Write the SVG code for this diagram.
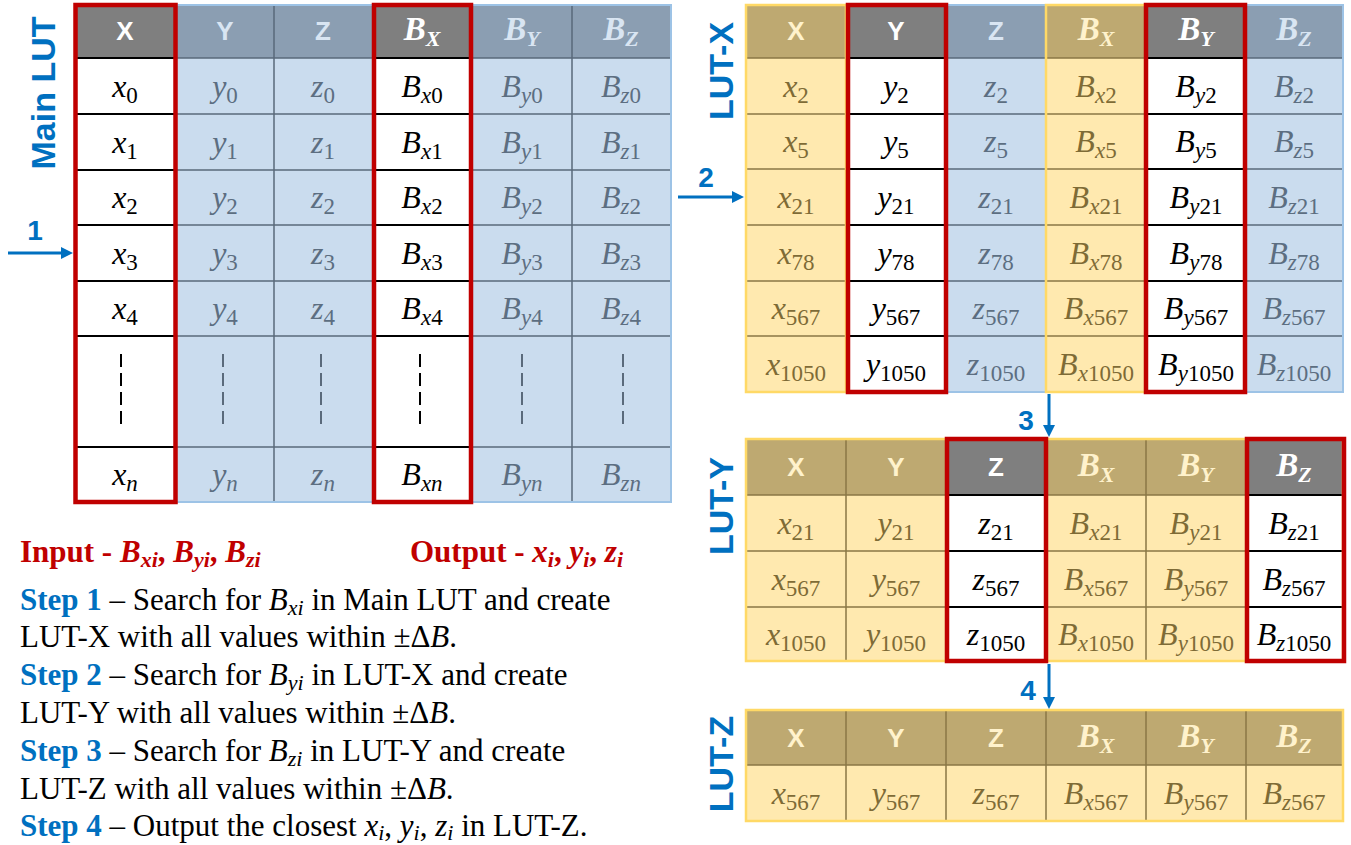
<svg xmlns="http://www.w3.org/2000/svg" width="1351" height="845" viewBox="0 0 1351 845">
<style>
.lab{font-family:"Liberation Sans",Arial,sans-serif;font-weight:bold;font-size:34px;fill:#0070C0;text-anchor:middle}
.num{font-family:"Liberation Sans",Arial,sans-serif;font-weight:bold;font-size:28px;fill:#0070C0;text-anchor:middle}
.h{font-family:"Liberation Sans",Arial,sans-serif;font-weight:bold;font-size:26px;text-anchor:middle}
.hm{font-family:"Liberation Serif","Times New Roman",serif;font-style:italic;font-weight:bold;font-size:33px;text-anchor:middle}
.hs{font-size:22px}
.m{font-family:"Liberation Serif","Times New Roman",serif;font-style:italic;font-size:32px;text-anchor:middle}
.s{font-size:23px}
.u{font-style:normal}
.cw{fill:#000}.cb{fill:#5C6E81}.cy{fill:#7E6B36}
.hw{fill:#fff}.hb{fill:#D9E5F2}.hy{fill:#FFF2CC}
.bgW{fill:#fff}.bgB{fill:#CADCEE}.bgY{fill:#FFE9AF}
.hdG{fill:#7F7F7F}.hdB{fill:#8B9EB2}.hdY{fill:#BEA971}
.lW{stroke:#000;stroke-width:2;fill:none}.lB{stroke:#5A6A7B;stroke-width:1.5;fill:none}.lY{stroke:#8A7746;stroke-width:1.5;fill:none}
.bdB{fill:none;stroke:#9DC3E6;stroke-width:2}.bdY{fill:none;stroke:#FFD966;stroke-width:2.5}
.red{fill:none;stroke:#C00000;stroke-width:4.5}
.dW{stroke:#000;stroke-width:2;stroke-dasharray:13 6}.dB{stroke:#5A6A7B;stroke-width:2;stroke-dasharray:13 6}
.arr{stroke:#0070C0;stroke-width:3;fill:none;marker-end:url(#ah)}
.tx{font-family:"Liberation Serif","Times New Roman",serif;font-size:31px;fill:#000}
.st{font-weight:bold;fill:#0070C0}
.rd{font-weight:bold;fill:#C00000}
.it{font-style:italic}
.sm{font-size:22px}
</style>
<defs>
<marker id="ah" viewBox="0 0 10 10" refX="3" refY="5" markerWidth="12" markerHeight="12" markerUnits="userSpaceOnUse" orient="auto">
<path d="M0,0 L10,5 L0,10 z" fill="#0070C0"/>
</marker>
</defs>

<g id="main-lut">
<text class="lab" transform="translate(55,93) rotate(-90)">Main LUT</text>
<rect class="bgB" x="75" y="5" width="596" height="497"/>
<rect class="bgW" x="75" y="58" width="101" height="444"/>
<rect class="bgW" x="373" y="58" width="99" height="444"/>
<rect class="hdG" x="75" y="5" width="101" height="53"/>
<rect class="hdB" x="176" y="5" width="197" height="53"/>
<rect class="hdG" x="373" y="5" width="99" height="53"/>
<rect class="hdB" x="472" y="5" width="199" height="53"/>
<path class="lW" d="M75 58H176M75 114H176M75 170H176M75 225H176M75 281H176M75 336H176M75 447H176M373 58H472M373 114H472M373 170H472M373 225H472M373 281H472M373 336H472M373 447H472"/>
<path class="lB" d="M176 58H373M176 114H373M176 170H373M176 225H373M176 281H373M176 336H373M176 447H373M472 58H671M472 114H671M472 170H671M472 225H671M472 281H671M472 336H671M472 447H671M274 5V502M572 5V502"/>
<rect class="bdB" x="176" y="5" width="495" height="497"/>
<text class="h hw" x="125" y="40">X</text>
<text class="h hb" x="225" y="40">Y</text>
<text class="h hb" x="323" y="40">Z</text>
<text class="hm hw" x="422" y="40">B<tspan class="hs" dy="6">X</tspan></text>
<text class="hm hb" x="522" y="40">B<tspan class="hs" dy="6">Y</tspan></text>
<text class="hm hb" x="621" y="40">B<tspan class="hs" dy="6">Z</tspan></text>
<text class="m cw" x="125" y="97">x<tspan class="s u" dy="6">0</tspan></text>
<text class="m cw" x="125" y="153">x<tspan class="s u" dy="6">1</tspan></text>
<text class="m cw" x="125" y="208">x<tspan class="s u" dy="6">2</tspan></text>
<text class="m cw" x="125" y="264">x<tspan class="s u" dy="6">3</tspan></text>
<text class="m cw" x="125" y="319">x<tspan class="s u" dy="6">4</tspan></text>
<text class="m cw" x="125" y="485">x<tspan class="s" dy="6">n</tspan></text>
<text class="m cb" x="225" y="97">y<tspan class="s u" dy="6">0</tspan></text>
<text class="m cb" x="225" y="153">y<tspan class="s u" dy="6">1</tspan></text>
<text class="m cb" x="225" y="208">y<tspan class="s u" dy="6">2</tspan></text>
<text class="m cb" x="225" y="264">y<tspan class="s u" dy="6">3</tspan></text>
<text class="m cb" x="225" y="319">y<tspan class="s u" dy="6">4</tspan></text>
<text class="m cb" x="225" y="485">y<tspan class="s" dy="6">n</tspan></text>
<text class="m cb" x="323" y="97">z<tspan class="s u" dy="6">0</tspan></text>
<text class="m cb" x="323" y="153">z<tspan class="s u" dy="6">1</tspan></text>
<text class="m cb" x="323" y="208">z<tspan class="s u" dy="6">2</tspan></text>
<text class="m cb" x="323" y="264">z<tspan class="s u" dy="6">3</tspan></text>
<text class="m cb" x="323" y="319">z<tspan class="s u" dy="6">4</tspan></text>
<text class="m cb" x="323" y="485">z<tspan class="s" dy="6">n</tspan></text>
<text class="m cw" x="422" y="97">B<tspan class="s" dy="6">x</tspan><tspan class="s u">0</tspan></text>
<text class="m cw" x="422" y="153">B<tspan class="s" dy="6">x</tspan><tspan class="s u">1</tspan></text>
<text class="m cw" x="422" y="208">B<tspan class="s" dy="6">x</tspan><tspan class="s u">2</tspan></text>
<text class="m cw" x="422" y="264">B<tspan class="s" dy="6">x</tspan><tspan class="s u">3</tspan></text>
<text class="m cw" x="422" y="319">B<tspan class="s" dy="6">x</tspan><tspan class="s u">4</tspan></text>
<text class="m cw" x="422" y="485">B<tspan class="s" dy="6">xn</tspan></text>
<text class="m cb" x="522" y="97">B<tspan class="s" dy="6">y</tspan><tspan class="s u">0</tspan></text>
<text class="m cb" x="522" y="153">B<tspan class="s" dy="6">y</tspan><tspan class="s u">1</tspan></text>
<text class="m cb" x="522" y="208">B<tspan class="s" dy="6">y</tspan><tspan class="s u">2</tspan></text>
<text class="m cb" x="522" y="264">B<tspan class="s" dy="6">y</tspan><tspan class="s u">3</tspan></text>
<text class="m cb" x="522" y="319">B<tspan class="s" dy="6">y</tspan><tspan class="s u">4</tspan></text>
<text class="m cb" x="522" y="485">B<tspan class="s" dy="6">yn</tspan></text>
<text class="m cb" x="621" y="97">B<tspan class="s" dy="6">z</tspan><tspan class="s u">0</tspan></text>
<text class="m cb" x="621" y="153">B<tspan class="s" dy="6">z</tspan><tspan class="s u">1</tspan></text>
<text class="m cb" x="621" y="208">B<tspan class="s" dy="6">z</tspan><tspan class="s u">2</tspan></text>
<text class="m cb" x="621" y="264">B<tspan class="s" dy="6">z</tspan><tspan class="s u">3</tspan></text>
<text class="m cb" x="621" y="319">B<tspan class="s" dy="6">z</tspan><tspan class="s u">4</tspan></text>
<text class="m cb" x="621" y="485">B<tspan class="s" dy="6">zn</tspan></text>
<path class="dW" d="M121 354V424M420 354V424"/>
<path class="dB" d="M223 354V424M321 354V424M522 354V424M623 354V424"/>
<rect class="red" x="75.5" y="5" width="100" height="497"/>
<rect class="red" x="374" y="5" width="97" height="497"/>
</g>

<g id="lut-x">
<text class="lab" transform="translate(733,71) rotate(-90)">LUT-X</text>
<rect class="bgY" x="746" y="5" width="100" height="387"/>
<rect class="bgW" x="846" y="5" width="100" height="387"/>
<rect class="bgB" x="946" y="5" width="100" height="387"/>
<rect class="bgY" x="1046" y="5" width="100" height="387"/>
<rect class="bgW" x="1146" y="5" width="100" height="387"/>
<rect class="bgB" x="1246" y="5" width="97" height="387"/>
<rect class="hdY" x="746" y="5" width="100" height="53"/>
<rect class="hdG" x="846" y="5" width="100" height="53"/>
<rect class="hdB" x="946" y="5" width="100" height="53"/>
<rect class="hdY" x="1046" y="5" width="100" height="53"/>
<rect class="hdG" x="1146" y="5" width="100" height="53"/>
<rect class="hdB" x="1246" y="5" width="97" height="53"/>
<path class="lY" d="M746 58H846M746 114H846M746 169H846M746 225H846M746 281H846M746 336H846M1046 58H1146M1046 114H1146M1046 169H1146M1046 225H1146M1046 281H1146M1046 336H1146"/>
<path class="lW" d="M846 58H946M846 114H946M846 169H946M846 225H946M846 281H946M846 336H946M1146 58H1246M1146 114H1246M1146 169H1246M1146 225H1246M1146 281H1246M1146 336H1246"/>
<path class="lB" d="M946 58H1046M946 114H1046M946 169H1046M946 225H1046M946 281H1046M946 336H1046M1246 58H1343M1246 114H1343M1246 169H1343M1246 225H1343M1246 281H1343M1246 336H1343"/>
<rect class="bdB" x="946" y="5" width="100" height="387"/>
<rect class="bdB" x="1246" y="5" width="97" height="387"/>
<rect class="bdY" x="746" y="5" width="100" height="387"/>
<rect class="bdY" x="1046" y="5" width="100" height="387"/>
<text class="h hy" x="796" y="40">X</text>
<text class="h hw" x="896" y="40">Y</text>
<text class="h hb" x="996" y="40">Z</text>
<text class="hm hy" x="1096" y="40">B<tspan class="hs" dy="6">X</tspan></text>
<text class="hm hw" x="1196" y="40">B<tspan class="hs" dy="6">Y</tspan></text>
<text class="hm hb" x="1294" y="40">B<tspan class="hs" dy="6">Z</tspan></text>
<text class="m cy" x="796" y="97">x<tspan class="s u" dy="6">2</tspan></text>
<text class="m cy" x="796" y="152">x<tspan class="s u" dy="6">5</tspan></text>
<text class="m cy" x="796" y="208">x<tspan class="s u" dy="6">21</tspan></text>
<text class="m cy" x="796" y="264">x<tspan class="s u" dy="6">78</tspan></text>
<text class="m cy" x="796" y="319">x<tspan class="s u" dy="6">567</tspan></text>
<text class="m cy" x="796" y="375">x<tspan class="s u" dy="6">1050</tspan></text>
<text class="m cw" x="896" y="97">y<tspan class="s u" dy="6">2</tspan></text>
<text class="m cw" x="896" y="152">y<tspan class="s u" dy="6">5</tspan></text>
<text class="m cw" x="896" y="208">y<tspan class="s u" dy="6">21</tspan></text>
<text class="m cw" x="896" y="264">y<tspan class="s u" dy="6">78</tspan></text>
<text class="m cw" x="896" y="319">y<tspan class="s u" dy="6">567</tspan></text>
<text class="m cw" x="896" y="375">y<tspan class="s u" dy="6">1050</tspan></text>
<text class="m cb" x="996" y="97">z<tspan class="s u" dy="6">2</tspan></text>
<text class="m cb" x="996" y="152">z<tspan class="s u" dy="6">5</tspan></text>
<text class="m cb" x="996" y="208">z<tspan class="s u" dy="6">21</tspan></text>
<text class="m cb" x="996" y="264">z<tspan class="s u" dy="6">78</tspan></text>
<text class="m cb" x="996" y="319">z<tspan class="s u" dy="6">567</tspan></text>
<text class="m cb" x="996" y="375">z<tspan class="s u" dy="6">1050</tspan></text>
<text class="m cy" x="1096" y="97">B<tspan class="s" dy="6">x</tspan><tspan class="s u">2</tspan></text>
<text class="m cy" x="1096" y="152">B<tspan class="s" dy="6">x</tspan><tspan class="s u">5</tspan></text>
<text class="m cy" x="1096" y="208">B<tspan class="s" dy="6">x</tspan><tspan class="s u">21</tspan></text>
<text class="m cy" x="1096" y="264">B<tspan class="s" dy="6">x</tspan><tspan class="s u">78</tspan></text>
<text class="m cy" x="1096" y="319">B<tspan class="s" dy="6">x</tspan><tspan class="s u">567</tspan></text>
<text class="m cy" x="1096" y="375">B<tspan class="s" dy="6">x</tspan><tspan class="s u">1050</tspan></text>
<text class="m cw" x="1196" y="97">B<tspan class="s" dy="6">y</tspan><tspan class="s u">2</tspan></text>
<text class="m cw" x="1196" y="152">B<tspan class="s" dy="6">y</tspan><tspan class="s u">5</tspan></text>
<text class="m cw" x="1196" y="208">B<tspan class="s" dy="6">y</tspan><tspan class="s u">21</tspan></text>
<text class="m cw" x="1196" y="264">B<tspan class="s" dy="6">y</tspan><tspan class="s u">78</tspan></text>
<text class="m cw" x="1196" y="319">B<tspan class="s" dy="6">y</tspan><tspan class="s u">567</tspan></text>
<text class="m cw" x="1196" y="375">B<tspan class="s" dy="6">y</tspan><tspan class="s u">1050</tspan></text>
<text class="m cb" x="1294" y="97">B<tspan class="s" dy="6">z</tspan><tspan class="s u">2</tspan></text>
<text class="m cb" x="1294" y="152">B<tspan class="s" dy="6">z</tspan><tspan class="s u">5</tspan></text>
<text class="m cb" x="1294" y="208">B<tspan class="s" dy="6">z</tspan><tspan class="s u">21</tspan></text>
<text class="m cb" x="1294" y="264">B<tspan class="s" dy="6">z</tspan><tspan class="s u">78</tspan></text>
<text class="m cb" x="1294" y="319">B<tspan class="s" dy="6">z</tspan><tspan class="s u">567</tspan></text>
<text class="m cb" x="1294" y="375">B<tspan class="s" dy="6">z</tspan><tspan class="s u">1050</tspan></text>
<rect class="red" x="848" y="5" width="98" height="387"/>
<rect class="red" x="1146" y="5" width="99" height="387"/>
</g>

<g id="lut-y">
<text class="lab" transform="translate(733,506) rotate(-90)">LUT-Y</text>
<rect class="bgY" x="746" y="439" width="597" height="222"/>
<rect class="bgW" x="946" y="495" width="100" height="166"/>
<rect class="bgW" x="1246" y="495" width="97" height="166"/>
<rect class="hdY" x="746" y="439" width="597" height="56"/>
<rect class="hdG" x="946" y="439" width="100" height="56"/>
<rect class="hdG" x="1246" y="439" width="97" height="56"/>
<path class="lY" d="M746 495H946M746 551H946M746 607H946M1046 495H1246M1046 551H1246M1046 607H1246M846 439V661M1146 439V661"/>
<path class="lW" d="M946 495H1046M946 551H1046M946 607H1046M1246 495H1343M1246 551H1343M1246 607H1343"/>
<rect class="bdY" x="746" y="439" width="597" height="222"/>
<text class="h hy" x="796" y="476">X</text>
<text class="h hy" x="896" y="476">Y</text>
<text class="h hw" x="996" y="476">Z</text>
<text class="hm hy" x="1096" y="476">B<tspan class="hs" dy="6">X</tspan></text>
<text class="hm hy" x="1196" y="476">B<tspan class="hs" dy="6">Y</tspan></text>
<text class="hm hw" x="1294" y="476">B<tspan class="hs" dy="6">Z</tspan></text>
<text class="m cy" x="796" y="534">x<tspan class="s u" dy="6">21</tspan></text>
<text class="m cy" x="796" y="590">x<tspan class="s u" dy="6">567</tspan></text>
<text class="m cy" x="796" y="645">x<tspan class="s u" dy="6">1050</tspan></text>
<text class="m cy" x="896" y="534">y<tspan class="s u" dy="6">21</tspan></text>
<text class="m cy" x="896" y="590">y<tspan class="s u" dy="6">567</tspan></text>
<text class="m cy" x="896" y="645">y<tspan class="s u" dy="6">1050</tspan></text>
<text class="m cw" x="996" y="534">z<tspan class="s u" dy="6">21</tspan></text>
<text class="m cw" x="996" y="590">z<tspan class="s u" dy="6">567</tspan></text>
<text class="m cw" x="996" y="645">z<tspan class="s u" dy="6">1050</tspan></text>
<text class="m cy" x="1096" y="534">B<tspan class="s" dy="6">x</tspan><tspan class="s u">21</tspan></text>
<text class="m cy" x="1096" y="590">B<tspan class="s" dy="6">x</tspan><tspan class="s u">567</tspan></text>
<text class="m cy" x="1096" y="645">B<tspan class="s" dy="6">x</tspan><tspan class="s u">1050</tspan></text>
<text class="m cy" x="1196" y="534">B<tspan class="s" dy="6">y</tspan><tspan class="s u">21</tspan></text>
<text class="m cy" x="1196" y="590">B<tspan class="s" dy="6">y</tspan><tspan class="s u">567</tspan></text>
<text class="m cy" x="1196" y="645">B<tspan class="s" dy="6">y</tspan><tspan class="s u">1050</tspan></text>
<text class="m cw" x="1294" y="534">B<tspan class="s" dy="6">z</tspan><tspan class="s u">21</tspan></text>
<text class="m cw" x="1294" y="590">B<tspan class="s" dy="6">z</tspan><tspan class="s u">567</tspan></text>
<text class="m cw" x="1294" y="645">B<tspan class="s" dy="6">z</tspan><tspan class="s u">1050</tspan></text>
<rect class="red" x="947" y="439" width="99" height="222"/>
<rect class="red" x="1247" y="439" width="97" height="222"/>
</g>

<g id="lut-z">
<text class="lab" transform="translate(733,764) rotate(-90)">LUT-Z</text>
<rect class="bgY" x="746" y="710" width="597" height="111"/>
<rect class="hdY" x="746" y="710" width="597" height="55"/>
<path class="lY" d="M746 765H1343M846 710V821M946 710V821M1046 710V821M1146 710V821M1246 710V821"/>
<rect class="bdY" x="746" y="710" width="597" height="111"/>
<text class="h hy" x="796" y="747">X</text>
<text class="h hy" x="896" y="747">Y</text>
<text class="h hy" x="996" y="747">Z</text>
<text class="hm hy" x="1096" y="747">B<tspan class="hs" dy="6">X</tspan></text>
<text class="hm hy" x="1196" y="747">B<tspan class="hs" dy="6">Y</tspan></text>
<text class="hm hy" x="1294" y="747">B<tspan class="hs" dy="6">Z</tspan></text>
<text class="m cy" x="796" y="804">x<tspan class="s u" dy="6">567</tspan></text>
<text class="m cy" x="896" y="804">y<tspan class="s u" dy="6">567</tspan></text>
<text class="m cy" x="996" y="804">z<tspan class="s u" dy="6">567</tspan></text>
<text class="m cy" x="1096" y="804">B<tspan class="s" dy="6">x</tspan><tspan class="s u">567</tspan></text>
<text class="m cy" x="1196" y="804">B<tspan class="s" dy="6">y</tspan><tspan class="s u">567</tspan></text>
<text class="m cy" x="1294" y="804">B<tspan class="s" dy="6">z</tspan><tspan class="s u">567</tspan></text>
</g>

<g id="connectors">
<line class="arr" x1="8" y1="253" x2="64.6" y2="253"/>
<text class="num" x="35" y="240">1</text>
<line class="arr" x1="678" y1="197" x2="735.6" y2="197"/>
<text class="num" x="706" y="187">2</text>
<line class="arr" x1="1049" y1="394" x2="1049" y2="428.6"/>
<text class="num" x="1026" y="430">3</text>
<line class="arr" x1="1049" y1="664" x2="1049" y2="700.6"/>
<text class="num" x="1028" y="700">4</text>
</g>

<g id="legend">
<text class="tx" x="20" y="562"><tspan class="rd">Input - </tspan><tspan class="rd it">B</tspan><tspan class="rd it sm" dy="5">xi</tspan><tspan class="rd" dy="-5">, </tspan><tspan class="rd it">B</tspan><tspan class="rd it sm" dy="5">yi</tspan><tspan class="rd" dy="-5">, </tspan><tspan class="rd it">B</tspan><tspan class="rd it sm" dy="5">zi</tspan></text>
<text class="tx" x="410" y="562"><tspan class="rd">Output - </tspan><tspan class="rd it">x</tspan><tspan class="rd it sm" dy="5">i</tspan><tspan class="rd" dy="-5">, </tspan><tspan class="rd it">y</tspan><tspan class="rd it sm" dy="5">i</tspan><tspan class="rd" dy="-5">, </tspan><tspan class="rd it">z</tspan><tspan class="rd it sm" dy="5">i</tspan></text>
<text class="tx" x="20" y="610"><tspan class="st">Step 1</tspan> – Search for <tspan class="it">B</tspan><tspan class="it sm" dy="5">xi</tspan><tspan dy="-5"> in Main LUT and create</tspan></text>
<text class="tx" x="20" y="647">LUT-X with all values within ±Δ<tspan class="it">B</tspan>.</text>
<text class="tx" x="20" y="685"><tspan class="st">Step 2</tspan> – Search for <tspan class="it">B</tspan><tspan class="it sm" dy="5">yi</tspan><tspan dy="-5"> in LUT-X and create</tspan></text>
<text class="tx" x="20" y="723">LUT-Y with all values within ±Δ<tspan class="it">B</tspan>.</text>
<text class="tx" x="20" y="761"><tspan class="st">Step 3</tspan> – Search for <tspan class="it">B</tspan><tspan class="it sm" dy="5">zi</tspan><tspan dy="-5"> in LUT-Y and create</tspan></text>
<text class="tx" x="20" y="799">LUT-Z with all values within ±Δ<tspan class="it">B</tspan>.</text>
<text class="tx" x="20" y="836"><tspan class="st">Step 4</tspan> – Output the closest <tspan class="it">x</tspan><tspan class="it sm" dy="4">i</tspan><tspan dy="-4">, </tspan><tspan class="it">y</tspan><tspan class="it sm" dy="4">i</tspan><tspan dy="-4">, </tspan><tspan class="it">z</tspan><tspan class="it sm" dy="4">i</tspan><tspan dy="-4"> in LUT-Z.</tspan></text>
</g>
</svg>
